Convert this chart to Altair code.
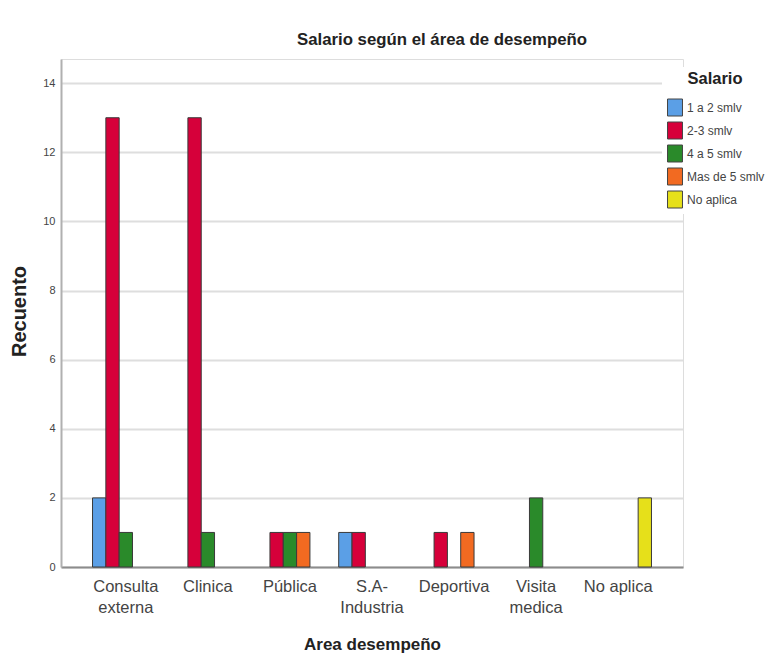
import altair as alt
import pandas as pd

# ---- data ----
areas = ["Consulta externa", "Clinica", "Pública", "S.A-Industria",
         "Deportiva", "Visita medica", "No aplica"]
area_lines = [["Consulta", "externa"], ["Clinica"], ["Pública"],
              ["S.A-", "Industria"], ["Deportiva"], ["Visita", "medica"],
              ["No aplica"]]
salarios = ["1 a 2 smlv", "2-3 smlv", "4 a 5 smlv", "Mas de 5 smlv", "No aplica"]
colores = ["#5B9FE6", "#D6003A", "#2A8A2A", "#F26A21", "#E6E01A"]

s_1a2 = [2, 0, 0, 1, 0, 0, 0]
s_2a3 = [13, 13, 1, 1, 1, 0, 0]
s_4a5 = [1, 1, 1, 0, 0, 2, 0]
s_mas5 = [0, 0, 1, 0, 1, 0, 0]
s_noap = [0, 0, 0, 0, 0, 0, 2]
y_ticks = [0, 2, 4, 6, 8, 10, 12, 14]

series = [s_1a2, s_2a3, s_4a5, s_mas5, s_noap]
rows = []
for sal, vals in zip(salarios, series):
    for a, v in zip(areas, vals):
        if v > 0:
            rows.append({"area": a, "salario": sal, "recuento": v})
df = pd.DataFrame(rows)

# label expression (multi-line labels)
def js_list(lst):
    return "[" + ",".join("'" + s + "'" for s in lst) + "]"
expr = "datum.label"
for a, lines in reversed(list(zip(areas, area_lines))):
    if len(lines) > 1:
        expr = f"datum.label == '{a}' ? {js_list(lines)} : ({expr})"

FONT = "Liberation Sans, Arial, sans-serif"

bars = alt.Chart(df).mark_bar(stroke="#3a3a3a", strokeWidth=1).encode(
    x=alt.X("area:N", sort=areas,
            scale=alt.Scale(domain=areas, paddingInner=0, paddingOuter=0.29),
            axis=alt.Axis(title="Area desempeño", labelAngle=0, labelExpr=expr,
                          ticks=False, domainColor="#8c8c8c", domainWidth=2,
                          labelFont=FONT, labelFontSize=16.5, labelColor="#444444",
                          labelPadding=11, labelLineHeight=21, labelOverlap=False,
                          titleFont=FONT, titleFontSize=17, titleFontWeight="bold",
                          titleColor="#222222", titleY=82, titleBaseline="alphabetic",
                          grid=False)),
    xOffset=alt.XOffset("salario:N",
                        scale=alt.Scale(domain=salarios, paddingInner=0, paddingOuter=0.58)),
    y=alt.Y("recuento:Q", scale=alt.Scale(domain=[0, 14.7], nice=False),
            axis=alt.Axis(title="Recuento", values=y_ticks, ticks=False,
                          domainColor="#b0b0b0", domainWidth=2,
                          grid=True, gridColor="#dedede", gridWidth=2,
                          labelFont=FONT, labelFontSize=11, labelColor="#444444",
                          labelPadding=6,
                          titleFont=FONT, titleFontSize=20, titleFontWeight="bold",
                          titleColor="#222222", titleX=-42, titleY=252,
                          titleBaseline="middle", titleAlign="center")),
    color=alt.Color("salario:N",
                    scale=alt.Scale(domain=salarios, range=colores),
                    legend=alt.Legend(title="Salario", orient="none",
                                      legendX=601, legendY=8, fillColor="white",
                                      padding=4,
                                      symbolType="M-0.88,-1H0.88V1H-0.88Z",
                                      symbolSize=289, symbolStrokeColor="#444444",
                                      symbolStrokeWidth=1, symbolOpacity=1,
                                      labelFont=FONT, labelFontSize=12,
                                      labelColor="#444444", labelOffset=3,
                                      rowPadding=1,
                                      titleFont=FONT, titleFontSize=16.5,
                                      titleFontWeight="bold", titleColor="#222222",
                                      titleAnchor="middle", titlePadding=11)),
).properties(
    width=622, height=508,
    autosize=alt.AutoSizeParams(type="none"),
    padding={"left": 53, "top": 51, "right": 84, "bottom": 86},
    title=alt.TitleParams(text="Salario según el área de desempeño",
                          anchor="middle", frame="group", dx=70, dy=14, offset=11,
                          baseline="alphabetic", font=FONT, fontSize=16.8,
                          fontWeight="bold", color="#222222"),
).configure_view(stroke=None).configure(background="white")

chart = bars
chart.save("out.html", embed_options={"renderer": "svg", "actions": False})
